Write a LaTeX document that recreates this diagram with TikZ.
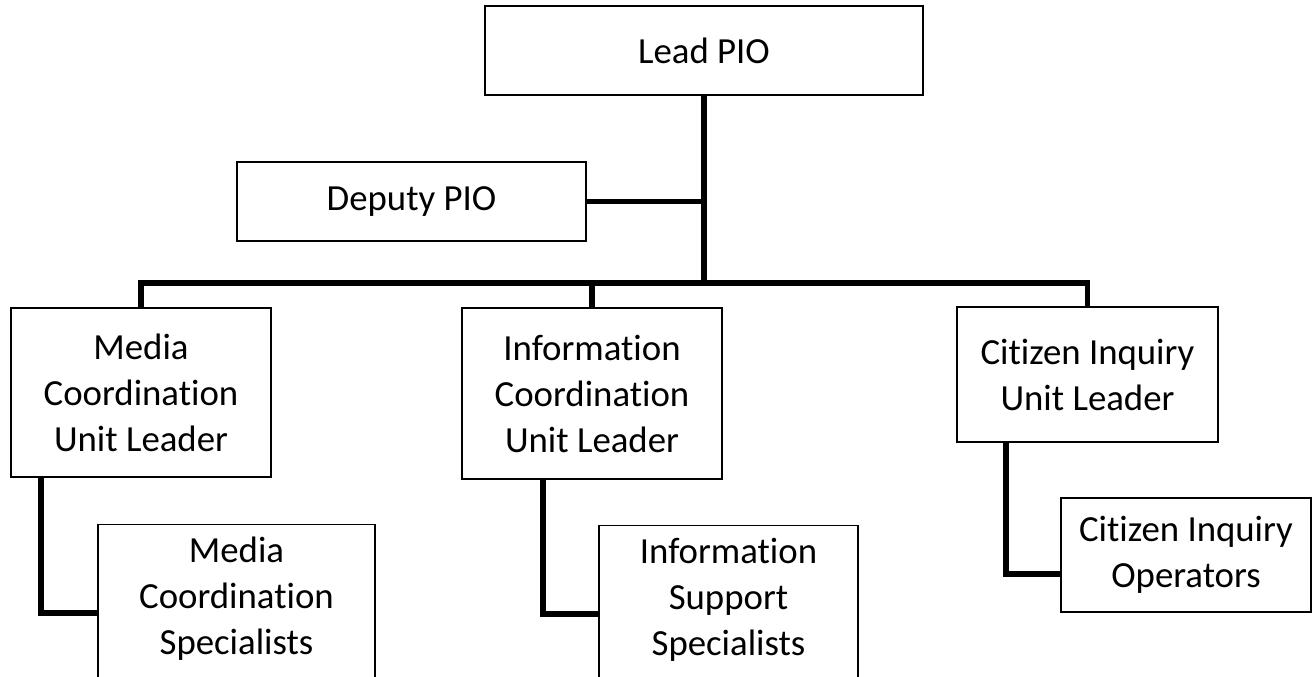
\documentclass[tikz,border=0pt]{standalone}
\usepackage{fontspec}
\setmainfont{Carlito}[Ligatures=NoCommon]
\begin{document}
\begin{tikzpicture}[x=1pt,y=-1pt,
  obox/.style={draw=black, line width=1.4pt, fill=white, rectangle, align=center, inner sep=0pt,
               font=\fontsize{36.8}{46}\selectfont},
  cline/.style={line width=5.8pt, line join=miter, line cap=butt}]
\useasboundingbox (0,0) rectangle (1315,677);
\clip (0,0) rectangle (1315,677);
\fill[white] (0,0) rectangle (1315,677);
% boxes
\node[obox, line width=2.2pt, minimum width=438, minimum height=89] (lead) at (704,50.5) {Lead PIO};
\node[obox, minimum width=349, minimum height=79] (dep) at (411.5,201.5) {Deputy PIO};
\node[obox, minimum width=260, minimum height=169] (media) at (141,392.5) {Media\\Coordination\\Unit Leader};
\node[obox, minimum width=260, minimum height=171] (info) at (592,393.5) {Information\\Coordination\\Unit Leader};
\node[obox, minimum width=261, minimum height=135] (cit) at (1087.5,374.5) {Citizen Inquiry\\Unit Leader};
\node[obox, anchor=north] (mspec) at (236.5,524) {\parbox[t][200pt][t]{277pt}{\centering\vspace*{12pt}Media\\Coordination\\Specialists}};
\node[obox, anchor=north] (ispec) at (728.5,525) {\parbox[t][200pt][t]{259pt}{\centering\vspace*{12pt}Information\\Support\\Specialists}};
\node[obox, minimum width=250, minimum height=114] (cspec) at (1186,555) {Citizen Inquiry\\Operators};
% connectors
\coordinate (bus) at (705,283);
\draw[cline] (media.north) |- (bus) -| (cit.north);
\draw[cline] (info.north) -- (info.north |- bus);
\draw[cline] (lead.south) -- (lead.south |- bus);
\draw[cline, line width=4.5pt] (dep.east) -- (dep.east -| lead.south);
\draw[cline] ([xshift=31pt]media.south west) |- (mspec.west |- 0,613);
\draw[cline] ([xshift=82pt]info.south west) |- (ispec.west |- 0,614);
\draw[cline] ([xshift=50pt]cit.south west) |- (cspec.west |- 0,574);
\end{tikzpicture}
\end{document}
